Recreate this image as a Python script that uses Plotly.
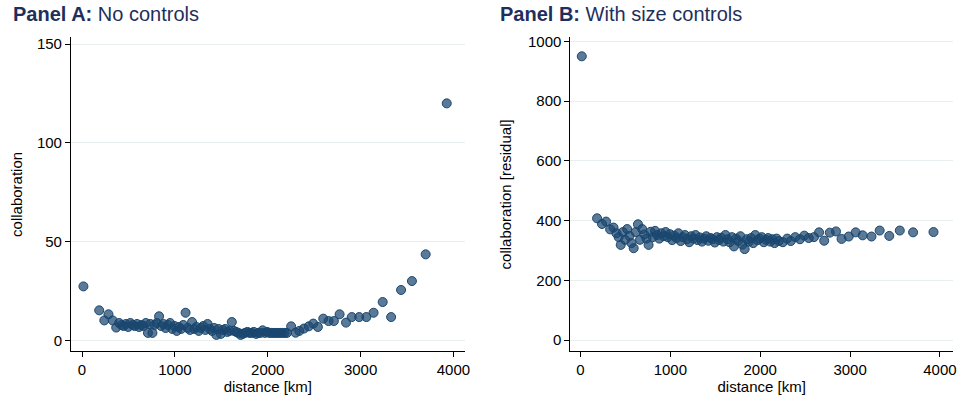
import plotly.graph_objects as go

# Binned distance (km), shared by both panels
distance_km = [15, 185, 240, 285, 330, 368, 400, 425, 448, 472, 497, 520, 545, 568, 592,
               615, 640, 662, 687, 710, 735, 758, 782, 805, 830, 852, 877, 900, 925, 948,
               972, 995, 1020, 1043, 1068, 1090, 1115, 1138, 1162, 1185, 1210, 1232, 1257,
               1280, 1305, 1328, 1352, 1375, 1400, 1423, 1447, 1470, 1495, 1518, 1542, 1565,
               1590, 1613, 1637, 1660, 1685, 1708, 1732, 1755, 1780, 1803, 1827, 1850, 1875,
               1898, 1922, 1945, 1970, 1993, 2017, 2040, 2065, 2088, 2112, 2135, 2160, 2183,
               2207, 2252, 2300, 2340, 2390, 2442, 2490, 2540, 2598, 2655, 2712, 2774, 2843,
               2905, 2985, 3062, 3140, 3238, 3329, 3436, 3553, 3701, 3928]

# Panel A: mean collaboration per bin, no controls
collab_raw = [27.5, 15.4, 10.3, 13.4, 10.3, 6.7, 9.0, 8.0, 7.5, 8.5, 7.0, 9.0, 8.0, 7.5, 8.5,
              7.0, 8.0, 7.5, 9.0, 4.0, 8.5, 4.0, 8.0, 9.0, 12.4, 7.5, 8.5, 6.5, 8.0, 9.0,
              6.0, 7.5, 5.0, 7.0, 6.0, 8.0, 14.2, 6.5, 5.5, 9.5, 6.0, 7.0, 5.0,
              6.5, 7.5, 5.5, 8.5, 6.0, 5.0, 6.5, 3.0, 6.0, 3.5, 5.5, 6.0, 4.5,
              5.0, 9.5, 5.0, 4.5, 4.0, 3.0, 3.5, 4.0, 4.5, 4.0, 4.0, 4.5, 3.5,
              4.0, 4.0, 5.3, 4.0, 4.5, 4.0, 4.0, 4.0, 4.0, 4.0, 4.0, 4.0, 4.0,
              4.0, 7.3, 4.1, 5.0, 6.2, 7.3, 8.7, 7.0, 11.2, 10.0, 10.0, 13.4, 9.2,
              12.0, 12.0, 12.0, 14.2, 19.6, 12.0, 25.7, 30.2, 43.7, 120.0]

# Panel B: collaboration residual per bin, with size controls
collab_resid = [950, 408, 389, 397, 371, 377, 358, 345, 319, 362, 336, 372, 349, 325, 308,
                362, 388, 336, 372, 354, 340, 319, 363, 345, 366, 352, 340, 358, 348, 362,
                345, 355, 335, 350, 342, 358, 332, 345, 352, 338, 328, 348, 340,
                352, 335, 344, 330, 340, 348, 333, 342, 338, 327, 345, 335, 343,
                330, 352, 338, 328, 345, 314, 340, 332, 348, 320, 305, 338, 330,
                342, 325, 352, 335, 340, 345, 328, 336, 342, 330, 338, 325, 340,
                332, 328, 340, 332, 345, 338, 350, 342, 345, 361, 333, 360, 364,
                339, 347, 361, 351, 347, 367, 349, 367, 361, 362]

x_ticks = [0, 1000, 2000, 3000, 4000]
yA_ticks = [0, 50, 100, 150]
yB_ticks = [0, 200, 400, 600, 800, 1000]

W, H = 958, 398
NAVY = "#1a476f"
FONT = "Liberation Sans, Arial, sans-serif"
marker = dict(size=9, color="rgba(26,71,111,0.72)", line=dict(color=NAVY, width=1))


def px_x(p):
    # pixel column -> paper fraction
    return (p - 1.5) / 0.988 / W


def px_y(p):
    # pixel row (from top) -> paper fraction
    return 1 - (p - 4.5) / 0.988 / H


fig = go.Figure()
fig.add_trace(go.Scatter(x=distance_km, y=collab_raw, mode="markers", marker=marker,
                         xaxis="x", yaxis="y", showlegend=False))
fig.add_trace(go.Scatter(x=distance_km, y=collab_resid, mode="markers", marker=marker,
                         xaxis="x2", yaxis="y2", showlegend=False))

axis_common = dict(showline=True, linecolor="#000000", linewidth=1, ticks="outside",
                   ticklen=5, tickcolor="#000000", tickfont=dict(family=FONT, size=15, color="#000"),
                   zeroline=False, title_font=dict(family=FONT, size=15, color="#000"),
                   ticklabeloverflow="allow")
xcommon = dict(axis_common, showgrid=False, tickvals=x_ticks, title_text="distance [km]",
               title_standoff=1)
ycommon = dict(axis_common, showgrid=True, gridcolor="#e8eff1", gridwidth=1)

plot_top, plot_bottom = 37, 351

fig.update_layout(
    width=W, height=H,
    margin=dict(l=0, r=0, t=0, b=0),
    paper_bgcolor="white", plot_bgcolor="white",
    font=dict(family=FONT),
    xaxis=dict(xcommon, domain=[px_x(72), px_x(463)], range=[-119, 4121], anchor="y"),
    yaxis=dict(ycommon, domain=[px_y(plot_bottom), px_y(plot_top)], range=[-5.3, 153.3],
               tickvals=yA_ticks, title_text="collaboration", title_standoff=10, anchor="x"),
    xaxis2=dict(xcommon, domain=[px_x(568), 1.0], range=[-112, 4145], anchor="y2"),
    yaxis2=dict(ycommon, domain=[px_y(plot_bottom), px_y(plot_top)], range=[-37, 1013],
                tickvals=yB_ticks, title_text="collaboration [residual]", title_standoff=12,
                anchor="x2"),
    annotations=[
        dict(text="<b>Panel A:</b> No controls", x=px_x(12), y=px_y(14),
             xref="paper", yref="paper", xanchor="left", yanchor="middle", showarrow=False,
             font=dict(family=FONT, size=20, color="#1f2f5c")),
        dict(text="<b>Panel B:</b> With size controls", x=px_x(496), y=px_y(14),
             xref="paper", yref="paper", xanchor="left", yanchor="middle", showarrow=False,
             font=dict(family=FONT, size=20, color="#1f2f5c")),
    ],
)

fig.write_html("out.html")
